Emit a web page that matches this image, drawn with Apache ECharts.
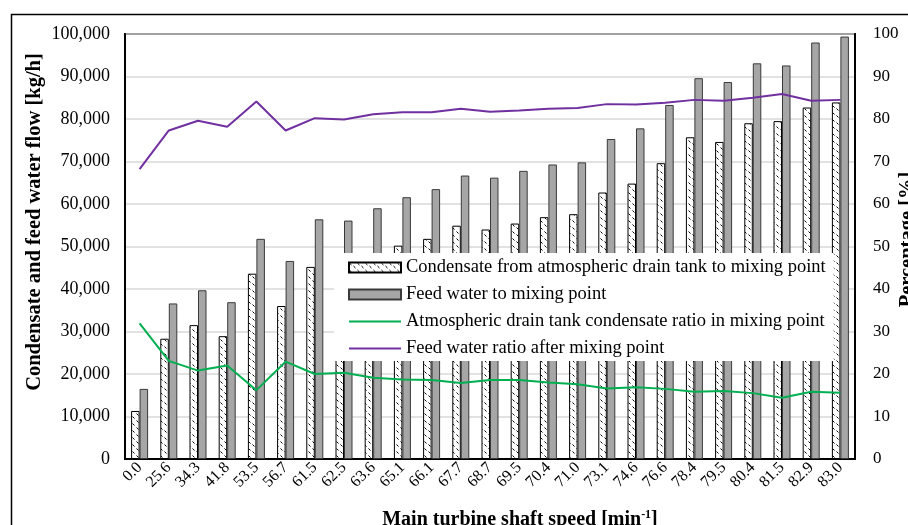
<!DOCTYPE html>
<html>
<head>
<meta charset="utf-8">
<script src="https://cdn.jsdelivr.net/npm/echarts@6/dist/echarts.min.js"></script>
<style>
html,body{margin:0;padding:0;background:#fff;}
#chart{width:908px;height:525px;}
</style>
</head>
<body>
<div id="chart"></div>
<script>
const categories = ['0.0','25.6','34.3','41.8','53.5','56.7','61.5','62.5','63.6','65.1','66.1','67.7','68.7','69.5','70.4','71.0','73.1','74.6','76.6','78.4','79.5','80.4','81.5','82.9','83.0'];
const condensateFlow = [11300, 28300, 31500, 28900, 43600, 36000, 45200, 46500, 48000, 50200, 51800, 54900, 54000, 55400, 56900, 57600, 62700, 64800, 69600, 75700, 74600, 79000, 79500, 82700, 83900];
const feedWaterFlow = [16500, 36600, 39700, 36900, 51800, 46600, 56400, 56100, 59000, 61600, 63500, 66700, 66200, 67800, 69300, 69800, 75300, 77800, 83300, 89600, 88700, 93100, 92600, 98000, 99400];
const condensateRatio = [31.9, 23.1, 20.8, 22.0, 16.2, 22.9, 20.0, 20.3, 19.1, 18.7, 18.6, 17.9, 18.6, 18.6, 18.0, 17.6, 16.6, 16.9, 16.5, 15.8, 16.0, 15.5, 14.4, 15.8, 15.6];
const feedWaterRatio = [68.2, 77.3, 79.6, 78.2, 84.1, 77.3, 80.2, 79.9, 81.1, 81.6, 81.6, 82.4, 81.7, 82.0, 82.4, 82.6, 83.5, 83.4, 83.8, 84.5, 84.3, 85.0, 85.9, 84.3, 84.5];
const seriesNames = [
  'Condensate from atmospheric drain tank to mixing point',
  'Feed water to mixing point',
  'Atmospheric drain tank condensate ratio in mixing point',
  'Feed water ratio after mixing point'
];

const FONT = '"Liberation Serif", "Times New Roman", serif';
const LINE_ICON = 'path://M0,0H52V2H0Z';

// hatch pattern for condensate bars
const pc = document.createElement('canvas');
pc.width = 8; pc.height = 7;
const g = pc.getContext('2d');
g.fillStyle = '#fff'; g.fillRect(0, 0, 8, 7);
g.strokeStyle = '#000'; g.lineWidth = 1;
g.beginPath();
g.moveTo(0.5, 0.5); g.lineTo(2.5, 2.5);
g.moveTo(4.5, 3.5); g.lineTo(6.5, 5.5);
g.stroke();

const chart = echarts.init(document.getElementById('chart'), null, {renderer: 'canvas'});
chart.setOption({
  animation: false,
  backgroundColor: '#fff',
  textStyle: {fontFamily: FONT, color: '#000'},
  graphic: [{
    type: 'rect', left: 9, top: 12, z: -1,
    shape: {width: 1000, height: 700},
    style: {fill: 'none', stroke: '#000', lineWidth: 1.5}
  }],
  grid: {
    left: 125, right: 53, top: 34, bottom: 66,
    outerBoundsMode: 'none',
    containLabel: false,
    show: true, borderColor: '#000', borderWidth: 2, backgroundColor: 'transparent'
  },
  legend: {
    orient: 'vertical',
    left: 334, top: 253,
    z: 20,
    backgroundColor: '#fff',
    padding: [5, 8, 3, 14],
    itemWidth: 52, itemHeight: 10, itemGap: 8,
    symbolKeepAspect: true,
    textStyle: {fontFamily: FONT, fontSize: 18.5, color: '#000', lineHeight: 19},
    data: [
      {name: seriesNames[0], icon: 'rect'},
      {name: seriesNames[1], icon: 'rect'},
      {name: seriesNames[2], icon: LINE_ICON, itemStyle: {color: '#00b050', borderWidth: 0}},
      {name: seriesNames[3], icon: LINE_ICON, itemStyle: {color: '#7030a0', borderWidth: 0}}
    ]
  },
  xAxis: {
    type: 'category',
    data: categories,
    axisLine: {lineStyle: {color: '#000', width: 2}},
    axisTick: {show: false},
    axisLabel: {rotate: 45, interval: 0, hideOverlap: false, fontFamily: FONT, fontSize: 16, color: '#000', margin: 6},
    name: 'Main turbine shaft speed [min{sup|-1}]',
    nameLocation: 'middle',
    nameGap: 50,
    nameMoveOverlap: false,
    nameTextStyle: {
      fontFamily: FONT, fontSize: 20, fontWeight: 'bold', color: '#000',
      padding: [0, 0, 0, 60],
      rich: {sup: {fontFamily: FONT, fontSize: 12, fontWeight: 'bold', color: '#000', padding: [0, 0, 9, 0]}}
    }
  },
  yAxis: [{
    type: 'value', min: 0, max: 100000, interval: 10000,
    position: 'left',
    axisLine: {show: true, lineStyle: {color: '#000', width: 2}},
    axisTick: {show: false},
    splitLine: {lineStyle: {color: '#d9d9d9', width: 1.5}},
    axisLabel: {
      fontFamily: FONT, fontSize: 18, color: '#000', margin: 15,
      formatter: v => v.toLocaleString('en-US')
    },
    name: 'Condensate and feed water flow [kg/h]',
    nameLocation: 'middle', nameRotate: 90, nameGap: 80,
    nameMoveOverlap: false,
    nameTextStyle: {fontFamily: FONT, fontSize: 20.5, fontWeight: 'bold', color: '#000', padding: [0, 0, 0, 49]}
  }, {
    type: 'value', min: 0, max: 100, interval: 10,
    position: 'right',
    axisLine: {show: true, lineStyle: {color: '#000', width: 2}},
    axisTick: {show: false},
    splitLine: {show: false},
    axisLabel: {fontFamily: FONT, fontSize: 17, color: '#000', margin: 18},
    name: 'Percentage [%]',
    nameLocation: 'middle', nameRotate: 90, nameGap: 42,
    nameMoveOverlap: false,
    nameTextStyle: {fontFamily: FONT, fontSize: 20.5, fontWeight: 'bold', color: '#000', padding: [0, 0, 0, 14]}
  }],
  series: [{
    name: seriesNames[0], type: 'bar', yAxisIndex: 0,
    data: condensateFlow,
    barWidth: 8.5, barGap: '0%',
    itemStyle: {color: {image: pc, repeat: 'repeat'}, borderColor: '#000', borderWidth: 1}
  }, {
    name: seriesNames[1], type: 'bar', yAxisIndex: 0,
    data: feedWaterFlow,
    barWidth: 8.5, barGap: '0%',
    itemStyle: {color: '#a6a6a6', borderColor: '#3a3a3a', borderWidth: 1}
  }, {
    name: seriesNames[2], type: 'line', yAxisIndex: 1,
    data: condensateRatio, symbol: 'none', z: 5,
    lineStyle: {color: '#00b050', width: 2},
    itemStyle: {color: '#00b050'}
  }, {
    name: seriesNames[3], type: 'line', yAxisIndex: 1,
    data: feedWaterRatio, symbol: 'none', z: 5,
    lineStyle: {color: '#7030a0', width: 2},
    itemStyle: {color: '#7030a0'}
  }]
});
</script>
</body>
</html>
